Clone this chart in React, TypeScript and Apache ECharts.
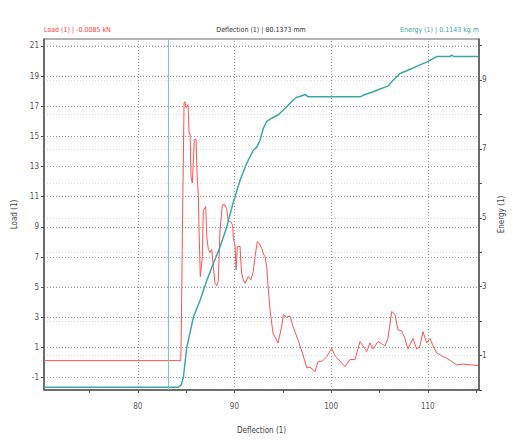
import React, { useEffect, useRef } from "react";
import * as echarts from "echarts";

const loadData: [number, number][] = [
  [70.3, 0.13], [84.45, 0.13], [84.5, 2.05], [84.61, 8.35], [84.79, 17.2], [84.89, 17.3], [85.0, 16.9], [85.2, 17.1],
  [85.31, 15.2], [85.41, 15.2], [85.51, 12.3], [85.65, 11.9], [85.85, 14.8], [86.03, 14.8], [86.13, 12.56], [86.27, 11.0],
  [86.34, 8.8], [86.47, 5.7], [86.68, 7.03], [86.78, 10.1], [87.03, 10.35], [87.14, 8.35], [87.3, 7.5], [87.48, 7.3],
  [87.65, 7.5], [87.82, 6.37], [87.99, 5.26], [88.17, 5.1], [88.33, 5.4], [88.51, 8.8], [88.75, 10.46], [89.03, 10.46],
  [89.2, 10.2], [89.37, 9.35], [89.62, 9.35], [89.82, 9.1], [89.89, 8.25], [90.06, 7.8], [90.17, 6.15], [90.3, 7.7],
  [90.58, 7.7], [90.65, 6.8], [90.75, 5.93], [90.92, 5.48], [91.1, 5.26], [91.44, 5.7], [91.69, 5.48], [91.95, 6.03],
  [92.13, 7.03], [92.37, 8.02], [92.57, 7.9], [92.82, 7.58], [92.99, 7.2], [93.16, 7.03], [93.34, 6.37], [93.51, 4.8],
  [93.68, 3.5], [93.99, 1.95], [94.51, 1.3], [94.89, 2.4], [95.06, 3.16], [95.4, 3.0], [95.75, 3.1], [96.06, 2.4],
  [96.58, 1.5], [97.1, 0.5], [97.48, -0.35], [97.82, -0.3], [98.34, -0.6], [98.65, 0.07], [99.1, 0.1], [99.55, 0.4],
  [100.06, 0.95], [100.4, 0.45], [100.92, 0.1], [101.44, -0.27], [101.95, 0.2], [102.47, 0.2], [102.99, 1.39], [103.3, 1.1],
  [103.68, 0.73], [104.02, 1.3], [104.33, 0.9], [104.85, 1.39], [105.23, 1.25], [105.57, 1.1], [105.88, 1.6], [106.27, 3.38],
  [106.61, 3.2], [106.92, 2.17], [107.3, 2.1], [107.64, 1.6], [107.95, 0.9], [108.47, 1.6], [108.85, 0.9], [109.19, 1.1],
  [109.5, 2.05], [109.89, 1.3], [110.23, 1.6], [110.54, 1.1], [110.92, 0.65], [111.44, 0.44], [111.95, 0.3], [112.47, 0.07],
  [112.99, -0.15], [113.64, -0.1], [114.36, -0.15], [115.19, -0.2],
];

const energyData: [number, number][] = [
  [70.3, 0.08], [84.2, 0.08], [84.5, 0.15], [84.72, 0.37], [85.07, 1.24], [85.75, 2.11], [86.44, 2.6], [87.14, 3.18],
  [87.82, 3.67], [88.51, 4.15], [89.2, 4.73], [89.89, 5.46], [90.58, 6.09], [91.27, 6.58], [91.95, 6.96], [92.31, 7.05],
  [92.65, 7.25], [92.99, 7.6], [93.34, 7.8], [93.86, 7.89], [94.54, 7.99], [95.06, 8.13], [95.57, 8.27], [96.09, 8.42],
  [96.44, 8.5], [96.78, 8.52], [97.3, 8.58], [97.64, 8.51], [99.54, 8.51], [101.26, 8.51], [102.99, 8.51], [103.5, 8.58],
  [104.36, 8.66], [105.06, 8.74], [105.92, 8.83], [106.43, 9.0], [107.13, 9.19], [107.82, 9.27], [108.5, 9.35], [109.19, 9.44],
  [109.89, 9.52], [110.4, 9.6], [110.92, 9.68], [112.3, 9.68], [112.47, 9.72], [112.7, 9.68], [115.22, 9.68],
];

const xTicks = [75, 80, 85, 90, 95, 100, 105, 110, 115];
const xLabels = [80, 90, 100, 110];
const xGridValues = [80, 90, 100, 110];
const loadTicks = [-1, 1, 3, 5, 7, 9, 11, 13, 15, 17, 19, 21];
const energyTicks = [0, 1, 2, 3, 4, 5, 6, 7, 8, 9, 10];
const energyLabels = [1, 3, 5, 7, 9];
const markerX = 83.13;

const titleLoad = "Load (1) | -0.0085 kN";
const titleDefl = "Deflection (1) | 80.1373 mm";
const titleEnergy = "Energy (1) | 0.1143 kg m";

const FONT = "'Liberation Sans Narrow', 'DejaVu Sans Condensed', 'Liberation Sans', sans-serif";

export default function App() {
  const ref = useRef<HTMLDivElement>(null);
  useEffect(() => {
    document.body.style.margin = "0";
    const chart = echarts.init(ref.current!, undefined, { renderer: "svg" });
    const labelStyle = { color: "#555", fontSize: 8, fontFamily: FONT };
    chart.setOption({
      animation: false,
      backgroundColor: "#fff",
      grid: { left: 44, right: 44, top: 39, bottom: 58, show: true, borderColor: "#666", borderWidth: 1 },
      graphic: [
        { type: "text", left: 44, top: 26, style: { text: titleLoad, fill: "#ff4040", font: `7px ${FONT}` } },
        { type: "text", x: 261, y: 26, style: { text: titleDefl, fill: "#333", font: `7px ${FONT}`, textAlign: "center" } },
        { type: "text", right: 44, top: 26, style: { text: titleEnergy, fill: "#3aa3a3", font: `7px ${FONT}` } },
      ],
      xAxis: {
        type: "value",
        min: 70.3,
        max: 115.3,
        name: "Deflection (1)",
        nameLocation: "middle",
        nameGap: 36,
        nameTextStyle: { color: "#444", fontSize: 8, fontFamily: FONT },
        axisLine: { show: true, onZero: false, lineStyle: { color: "#555", width: 1.5 } },
        axisTick: { show: true, customValues: xTicks, length: 3, lineStyle: { color: "#555" } },
        axisLabel: { ...labelStyle, customValues: xLabels, margin: 12 },
        splitLine: { show: false },
      },
      yAxis: [
        {
          type: "value",
          min: -1.82,
          max: 21.46,
          name: "Load (1)",
          nameLocation: "middle",
          nameRotate: 90,
          nameGap: 20,
          nameTextStyle: { color: "#444", fontSize: 8, fontFamily: FONT },
          axisLine: { show: true, onZero: false, lineStyle: { color: "#555", width: 1.5 } },
          axisTick: { show: true, customValues: loadTicks, length: 3, lineStyle: { color: "#555" } },
          axisLabel: { ...labelStyle, customValues: loadTicks, margin: 5 },
          splitLine: { show: true, lineStyle: { color: "#999", type: [1, 2], width: 1 } },
        },
        {
          type: "value",
          min: 0,
          max: 10.19,
          position: "right",
          name: "Energy (1)",
          nameLocation: "middle",
          nameRotate: 90,
          nameGap: 14,
          nameTextStyle: { color: "#444", fontSize: 8, fontFamily: FONT },
          axisLine: { show: true, onZero: false, lineStyle: { color: "#555", width: 1.5 } },
          axisTick: { show: true, customValues: energyTicks, length: 3, lineStyle: { color: "#555" } },
          axisLabel: { ...labelStyle, customValues: energyLabels, margin: 3 },
          splitLine: { show: true, lineStyle: { color: "#ddd", type: [1, 2], width: 1 } },
        },
      ],
      series: [
        {
          type: "line",
          name: "Load",
          yAxisIndex: 0,
          data: loadData,
          showSymbol: false,
          lineStyle: { color: "#ff5252", width: 1 },
          itemStyle: { color: "#ff5252" },
          z: 3,
          markLine: {
            silent: true,
            symbol: "none",
            label: { show: false },
            lineStyle: { color: "#999", type: [1, 2], width: 1 },
            data: xGridValues.map((v) => ({ xAxis: v })),
          },
        },
        {
          type: "line",
          name: "Energy",
          yAxisIndex: 1,
          data: energyData,
          showSymbol: false,
          lineStyle: { color: "#3aa8a8", width: 1.5 },
          itemStyle: { color: "#3aa8a8" },
          z: 4,
          markLine: {
            silent: true,
            symbol: "none",
            label: { show: false },
            lineStyle: { color: "#7cc4c4", type: "solid", width: 1 },
            data: [{ xAxis: markerX }],
          },
        },
      ],
    });
    return () => chart.dispose();
  }, []);
  return <div ref={ref} style={{ width: 523, height: 448, position: "absolute", left: 0, top: 0 }} />;
}
